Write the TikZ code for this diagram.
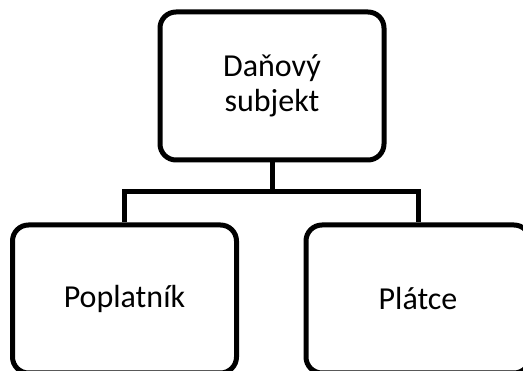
\documentclass[tikz,border=0pt]{standalone}
\usepackage{fontspec}
\setmainfont{Carlito}
\usetikzlibrary{backgrounds}
\begin{document}
\begin{tikzpicture}[x=1pt,y=-1pt,
  box/.style={draw=black,line width=5pt,rounded corners=16pt,fill=white,
    minimum width=224pt,minimum height=148pt,inner sep=0pt,
    font=\fontsize{32}{35}\selectfont,align=center},
  link/.style={draw=black,line width=5pt}]
\useasboundingbox (0,0) rectangle (523,371);
\clip (0,0) rectangle (523,371);
\coordinate (j) at (272,192);
\node[box] (top) at (272,86) {Daňový\\subjekt};
\node[box] (left) at (124.5,299) {Poplatník};
\node[box] (right) at (418,299) {Plátce};
\begin{scope}[on background layer]
  \fill[white] (0,0) rectangle (523,371);
  \draw[link] (top.south) -- (j);
  \draw[link] (left.north) |- (j) -| (right.north);
\end{scope}
\end{tikzpicture}
\end{document}
